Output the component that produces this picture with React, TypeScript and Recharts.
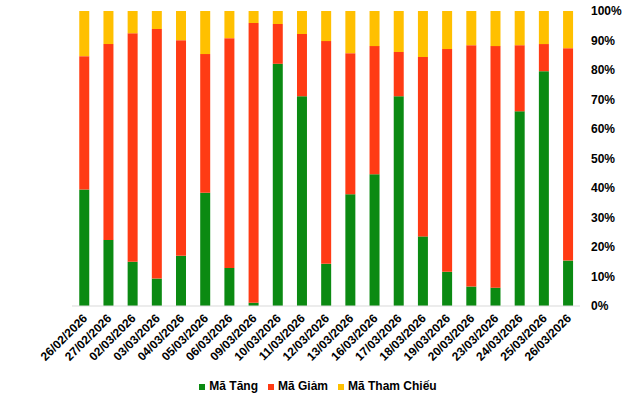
import React from 'react';
import { BarChart, Bar, XAxis, YAxis, Legend } from 'recharts';

const dates = ['26/02/2026','27/02/2026','02/03/2026','03/03/2026','04/03/2026','05/03/2026','06/03/2026','09/03/2026','10/03/2026','11/03/2026','12/03/2026','13/03/2026','16/03/2026','17/03/2026','18/03/2026','19/03/2026','20/03/2026','23/03/2026','24/03/2026','25/03/2026','26/03/2026'];
const tang = [39.5,22.4,15.0,9.3,17.0,38.4,12.9,1.1,82.1,71.1,14.3,37.9,44.7,71.1,23.6,11.6,6.6,6.2,66.0,79.6,15.4];
const giam = [45.2,66.4,77.5,84.6,73.1,47.0,77.9,94.8,13.5,21.1,75.5,47.8,43.4,15.0,60.8,75.5,81.8,81.9,22.4,9.2,72.0];
const thamChieu = [15.3,11.2,7.5,6.1,9.9,14.6,9.2,4.1,4.4,7.8,10.2,14.3,11.9,13.9,15.6,12.9,11.6,11.9,11.6,11.2,12.6];
const yTicks = [0,10,20,30,40,50,60,70,80,90,100];
const seriesOrder = ['tang', 'giam', 'tc'];

const data = dates.map((d, i) => ({ date: d, tang: tang[i], giam: giam[i], tc: thamChieu[i] }));

const FONT = '"Liberation Sans", Arial, sans-serif';

const XTick = (props: any) => {
  const { x, y, payload } = props;
  return (
    <g transform={`translate(${x + 4},${y + 5})`}>
      <text transform="rotate(-45)" textAnchor="end" fontFamily={FONT} fontSize={12} fontWeight="bold" fill="#000">
        {payload.value}
      </text>
    </g>
  );
};

export default function App() {
  return (
    <div style={{ position: 'absolute', left: 0, top: 0, width: 640, height: 393, background: '#fff' }}>
      <BarChart width={640} height={393} data={data} margin={{ top: 11, right: 0, bottom: 0, left: 72 }} barCategoryGap="30%">
        <XAxis dataKey="date" interval={0} tick={<XTick />} tickLine={false} axisLine={{ stroke: '#D9D9D9' }} height={73} />
        <YAxis orientation="right" domain={[0, 100]} ticks={yTicks} tickFormatter={(v: number) => `${v}%`} axisLine={false} tickLine={false} width={60} tickMargin={5}
          tick={{ fontFamily: FONT, fontSize: 12, fontWeight: 'bold', fill: '#000', textAnchor: 'start' }} />
        <Legend verticalAlign="bottom" align="center" iconType="square" iconSize={6}
          itemSorter={(item: any) => seriesOrder.indexOf(item.dataKey)}
          wrapperStyle={{ left: 8, width: 630, fontFamily: FONT, fontSize: 12, fontWeight: 'bold', color: '#000' }}
          formatter={(value: string) => <span style={{ color: '#000' }}>{value}</span>} />
        <Bar dataKey="tang" name="Mã Tăng" stackId="a" fill="#0B8A12" isAnimationActive={false} />
        <Bar dataKey="giam" name="Mã Giảm" stackId="a" fill="#FF3B14" isAnimationActive={false} />
        <Bar dataKey="tc" name="Mã Tham Chiếu" stackId="a" fill="#FFC000" isAnimationActive={false} />
      </BarChart>
    </div>
  );
}
